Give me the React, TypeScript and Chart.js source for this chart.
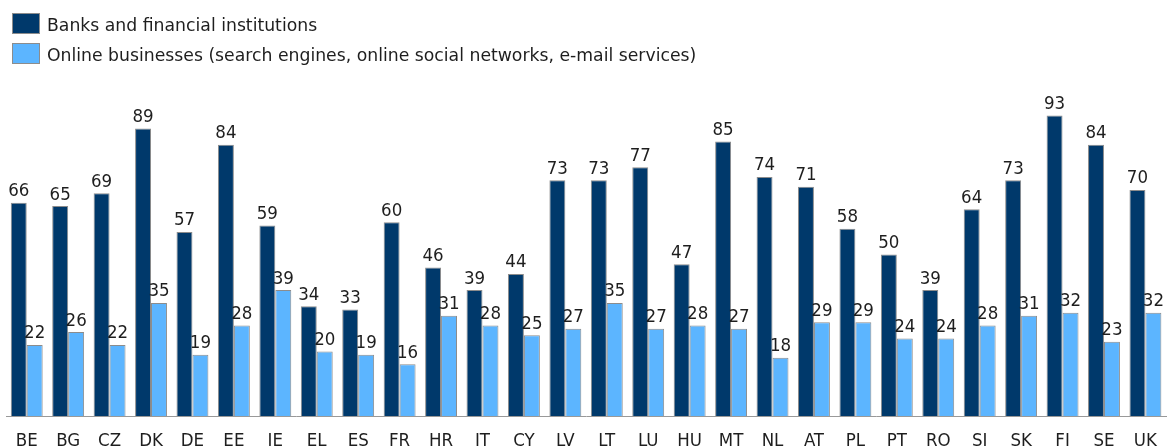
import React, { useEffect, useRef } from "react";
import { Chart, registerables } from "chart.js";

Chart.register(...registerables);

const categories = ["BE","BG","CZ","DK","DE","EE","IE","EL","ES","FR","HR","IT","CY","LV","LT","LU","HU","MT","NL","AT","PL","PT","RO","SI","SK","FI","SE","UK"];
const banksValues = [66,65,69,89,57,84,59,34,33,60,46,39,44,73,73,77,47,85,74,71,58,50,39,64,73,93,84,70];
const onlineValues = [22,26,22,35,19,28,39,20,19,16,31,28,25,27,35,27,28,27,18,29,29,24,24,28,31,32,23,32];
const seriesNames = ["Banks and financial institutions", "Online businesses (search engines, online social networks, e-mail services)"];

const DARK = "#00396b";
const LIGHT = "#5cb5ff";
const BORDER = "#8c8c8c";
const TEXT = "#1e1e1e";
const FONT = "'DejaVu Sans Condensed', 'DejaVu Sans', sans-serif";
const LEGEND_FONT = "'DejaVu Sans', sans-serif";

const overlayPlugin = {
  id: "overlay",
  afterDatasetsDraw(chart: any) {
    const ctx = chart.ctx;
    ctx.save();
    // value labels
    ctx.font = `18.5px ${FONT}`;
    ctx.fillStyle = TEXT;
    ctx.textAlign = "center";
    ctx.textBaseline = "alphabetic";
    chart.data.datasets.forEach((ds: any, di: number) => {
      const meta = chart.getDatasetMeta(di);
      meta.data.forEach((bar: any, i: number) => {
        ctx.fillText(String(ds.data[i]), bar.x, bar.y - 6.5);
      });
    });
    // legend
    const colors = [DARK, LIGHT];
    ctx.font = `17.25px ${LEGEND_FONT}`;
    ctx.textAlign = "left";
    seriesNames.forEach((name, i) => {
      const top = 13 + i * 30;
      ctx.fillStyle = colors[i];
      ctx.fillRect(12, top, 28, 21);
      ctx.strokeStyle = BORDER;
      ctx.lineWidth = 1;
      ctx.strokeRect(12.5, top + 0.5, 27, 20);
      ctx.fillStyle = TEXT;
      ctx.fillText(name, 47, 31 + i * 30);
    });
    ctx.restore();
  },
};

export default function App() {
  const ref = useRef<HTMLCanvasElement>(null);
  useEffect(() => {
    if (!ref.current) return;
    const chart = new Chart(ref.current, {
      type: "bar",
      data: {
        labels: categories,
        datasets: [
          { label: seriesNames[0], data: banksValues, backgroundColor: DARK, borderColor: BORDER, borderWidth: 1, categoryPercentage: 0.77, barPercentage: 1 },
          { label: seriesNames[1], data: onlineValues, backgroundColor: LIGHT, borderColor: BORDER, borderWidth: 1, categoryPercentage: 0.77, barPercentage: 1 },
        ],
      },
      options: {
        animation: false,
        responsive: false,
        maintainAspectRatio: false,
        layout: { padding: { left: 6, right: 2, top: 93, bottom: 0 } },
        plugins: { legend: { display: false }, tooltip: { enabled: false } },
        scales: {
          x: {
            grid: { display: false, drawTicks: false },
            border: { display: true, color: "#999999", width: 1 },
            ticks: { color: TEXT, font: { family: FONT, size: 18.5 }, padding: 14, maxRotation: 0, autoSkip: false },
            afterFit: (scale: any) => { scale.height = 31; },
          },
          y: { display: false, min: 0, max: 100 },
        },
      },
      plugins: [overlayPlugin],
    });
    return () => chart.destroy();
  }, []);
  return (
    <div style={{ position: "fixed", left: 0, top: 0, width: 1171, height: 447, overflow: "hidden", background: "#fff" }}>
      <canvas ref={ref} width={1171} height={447} style={{ display: "block" }} />
    </div>
  );
}
